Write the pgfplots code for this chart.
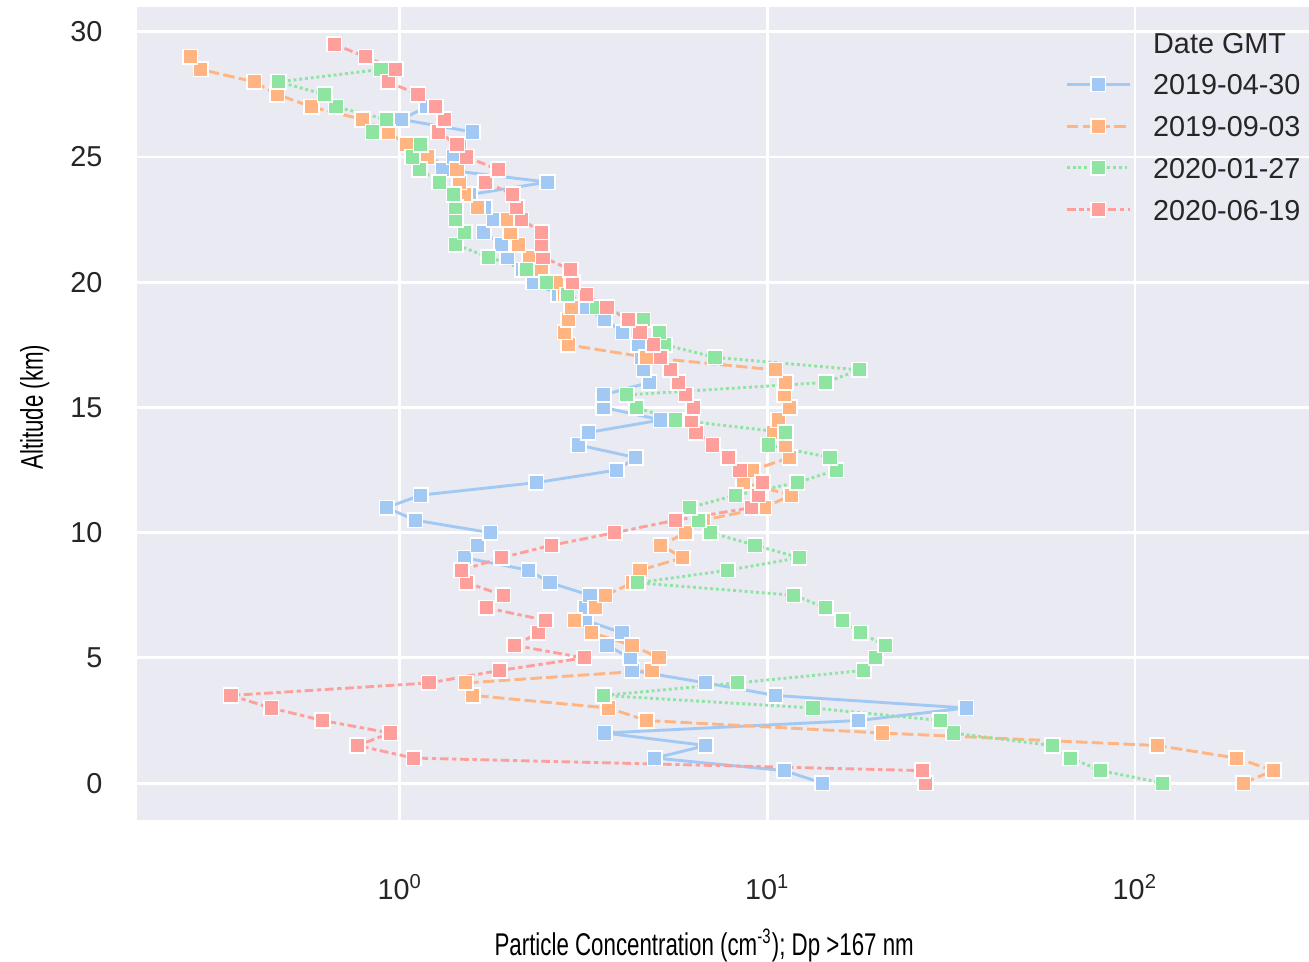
\documentclass[border=0pt]{standalone}
\usepackage{fontspec}
\setmainfont{Liberation Sans}
\newfontfamily\condfont[FakeStretch=0.71]{Liberation Sans}
\usepackage{pgfplots}
\pgfplotsset{compat=1.18}
\definecolor{bg}{HTML}{EAEAF2}
\definecolor{sbblue}{HTML}{A1C9F4}
\definecolor{sborange}{HTML}{FFB482}
\definecolor{sbgreen}{HTML}{8DE5A1}
\definecolor{sbred}{HTML}{FF9F9B}
\definecolor{txt}{HTML}{262626}
\begin{document}
\begin{tikzpicture}
\begin{axis}[
  name=ax,
  scale only axis, width=447.7pt, height=310.4pt,
  xmode=log, xmin=0.1925, xmax=297.5, ymin=-1.475, ymax=30.975,
  axis background/.style={fill=bg},
  axis line style={draw=none},
  major tick length=0pt, minor tick length=0pt,
  grid=major, major grid style={white, line width=1.1pt},
  xtick={1,10,100},
  xticklabels={10\textsuperscript{0},10\textsuperscript{1},10\textsuperscript{2}},
  ytick={0,5,10,15,20,25,30},
  /pgf/number format/assume math mode=true,
  ticklabel style={font=\fontsize{11}{13}\selectfont, text=txt},
  xticklabel style={anchor=base, inner sep=0pt, yshift=-30.2pt},
  yticklabel style={anchor=east, inner sep=0pt, xshift=-13pt},
  xlabel={Particle Concentration (cm\textsuperscript{-3}); Dp >167 nm},
  ylabel={Altitude (km)},
  label style={font=\condfont\fontsize{12}{14}\selectfont, text=black},
  xlabel style={at={(axis description cs:0.484,-0.1662)}, anchor=base, inner sep=0pt},
  ylabel style={at={(axis description cs:-0.0802,0.508)}, anchor=base, inner sep=0pt},
  legend style={at={(axis description cs:0.7918,0.9702)}, anchor=north west,
    draw=none, fill=none, inner sep=0pt, font=\fontsize{11}{13}\selectfont, text=txt,
    row sep=7.95pt, column sep=8.4pt,
    nodes={inner sep=0pt, text height=8pt, text depth=0pt}},
  legend cell align=left,
  legend image code/.code={\draw[mark repeat=2, mark phase=2, #1] plot coordinates {(0pt,0pt)(12pt,0pt)(24pt,0pt)};},
  every axis plot/.append style={line width=1.1pt, mark=square*, mark size=2.8pt},
]
\addlegendimage{empty legend}
\addlegendentry{Date GMT}

\addplot[color=sbblue, solid, mark options={solid, draw=white, line width=0.6pt, fill=sbblue}] coordinates {
(14.1,0) (11.1,0.5) (4.94,1.0) (6.8,1.5) (3.61,2.0) (17.7,2.5) (34.7,3.0) (10.5,3.5)
(6.8,4.0) (4.28,4.5) (4.23,5.0) (3.66,5.5) (4.02,6.0) (3.2,6.5) (3.2,7.0) (3.29,7.5)
(2.56,8.0) (2.24,8.5) (1.50,9.0) (1.63,9.5) (1.76,10.0) (1.10,10.5) (0.92,11.0) (1.14,11.5)
(2.35,12.0) (3.89,12.5) (4.38,13.0) (3.06,13.5) (3.25,14.0) (5.13,14.5) (3.58,15.0) (3.58,15.5)
(4.77,16.0) (4.61,16.5) (4.55,17.0) (4.46,17.5) (4.04,18.0) (3.61,18.5) (3.19,19.0) (2.7,19.5)
(2.31,20.0) (2.15,20.5) (1.96,21.0) (1.89,21.5) (1.69,22.0) (1.80,22.5) (1.7,23.0) (1.55,23.5)
(2.52,24.0) (1.31,24.5) (1.40,25.0) (1.45,25.5) (1.58,26.0) (1.01,26.5) (1.18,27.0)
};
\addlegendentry{2019-04-30}

\addplot[color=sborange, dash pattern=on 4.4pt off 1.65pt, mark options={solid, draw=white, line width=0.6pt, fill=sborange}] coordinates {
(197,0) (238,0.5) (189,1.0) (115,1.5) (20.5,2.0) (4.69,2.5) (3.69,3.0) (1.58,3.5)
(1.51,4.0) (4.85,4.5) (5.07,5.0) (4.28,5.5) (3.33,6.0) (2.99,6.5) (3.40,7.0) (3.62,7.5)
(4.3,8.0) (4.5,8.5) (5.88,9.0) (5.13,9.5) (6.0,10.0) (6.69,10.5) (9.8,11.0) (11.6,11.5)
(8.6,12.0) (9.12,12.5) (11.5,13.0) (11.2,13.5) (10.4,14.0) (10.7,14.5) (11.5,15.0) (11.1,15.5)
(11.2,16.0) (10.5,16.5) (4.69,17.0) (2.87,17.5) (2.81,18.0) (2.87,18.5) (2.93,19.0) (2.8,19.5)
(2.67,20.0) (2.43,20.5) (2.25,21.0) (2.10,21.5) (2.00,22.0) (1.96,22.5) (1.63,23.0) (1.50,23.5)
(1.45,24.0) (1.43,24.5) (1.19,25.0) (1.04,25.5) (0.93,26.0) (0.791,26.5) (0.575,27.0) (0.464,27.5)
(0.401,28.0) (0.287,28.5) (0.269,29.0)
};
\addlegendentry{2019-09-03}

\addplot[color=sbgreen, dash pattern=on 1.1pt off 1.1pt, mark options={solid, draw=white, line width=0.6pt, fill=sbgreen}] coordinates {
(119,0) (80.7,0.5) (66.8,1.0) (59.6,1.5) (32.0,2.0) (29.5,2.5) (13.3,3.0) (3.58,3.5)
(8.3,4.0) (18.3,4.5) (19.7,5.0) (20.9,5.5) (17.9,6.0) (16.0,6.5) (14.4,7.0) (11.8,7.5)
(4.43,8.0) (7.8,8.5) (12.2,9.0) (9.25,9.5) (7.0,10.0) (6.5,10.5) (6.15,11.0) (8.2,11.5)
(12.05,12.0) (15.4,12.5) (14.8,13.0) (10.05,13.5) (11.2,14.0) (5.63,14.5) (4.39,15.0) (4.14,15.5)
(14.4,16.0) (17.8,16.5) (7.2,17.0) (5.26,17.5) (5.08,18.0) (4.59,18.5) (3.43,19.0) (2.85,19.5)
(2.5,20.0) (2.21,20.5) (1.74,21.0) (1.42,21.5) (1.50,22.0) (1.42,22.5) (1.42,23.0) (1.40,23.5)
(1.28,24.0) (1.13,24.5) (1.08,25.0) (1.14,25.5) (0.843,26.0) (0.92,26.5) (0.670,27.0) (0.625,27.5)
(0.467,28.0) (0.888,28.5)
};
\addlegendentry{2020-01-27}

\addplot[color=sbred, dash pattern=on 3.3pt off 1.4pt on 1.65pt off 1.4pt, mark options={solid, draw=white, line width=0.6pt, fill=sbred}] coordinates {
(26.9,0) (26.4,0.5) (1.09,1.0) (0.767,1.5) (0.942,2.0) (0.616,2.5) (0.446,3.0) (0.347,3.5)
(1.20,4.0) (1.87,4.5) (3.17,5.0) (2.05,5.5) (2.38,6.0) (2.49,6.5) (1.72,7.0) (1.91,7.5)
(1.52,8.0) (1.47,8.5) (1.89,9.0) (2.59,9.5) (3.84,10.0) (5.63,10.5) (9.06,11.0) (9.44,11.5)
(9.7,12.0) (8.42,12.5) (7.83,13.0) (7.1,13.5) (6.39,14.0) (6.22,14.5) (6.28,15.0) (6.0,15.5)
(5.72,16.0) (5.45,16.5) (5.13,17.0) (4.89,17.5) (4.5,18.0) (4.18,18.5) (3.66,19.0) (3.21,19.5)
(2.95,20.0) (2.91,20.5) (2.45,21.0) (2.43,21.5) (2.43,22.0) (2.14,22.5) (2.08,23.0) (2.03,23.5)
(1.71,24.0) (1.85,24.5) (1.52,25.0) (1.43,25.5) (1.27,26.0) (1.32,26.5) (1.25,27.0) (1.12,27.5)
(0.93,28.0) (0.975,28.5) (0.807,29.0) (0.663,29.5)
};
\addlegendentry{2020-06-19}
\end{axis}
\pgfresetboundingbox
\path ([xshift=-52.3pt,yshift=-54.2pt]ax.south west) rectangle ([yshift=2.83pt]ax.north east);
\end{tikzpicture}
\end{document}
